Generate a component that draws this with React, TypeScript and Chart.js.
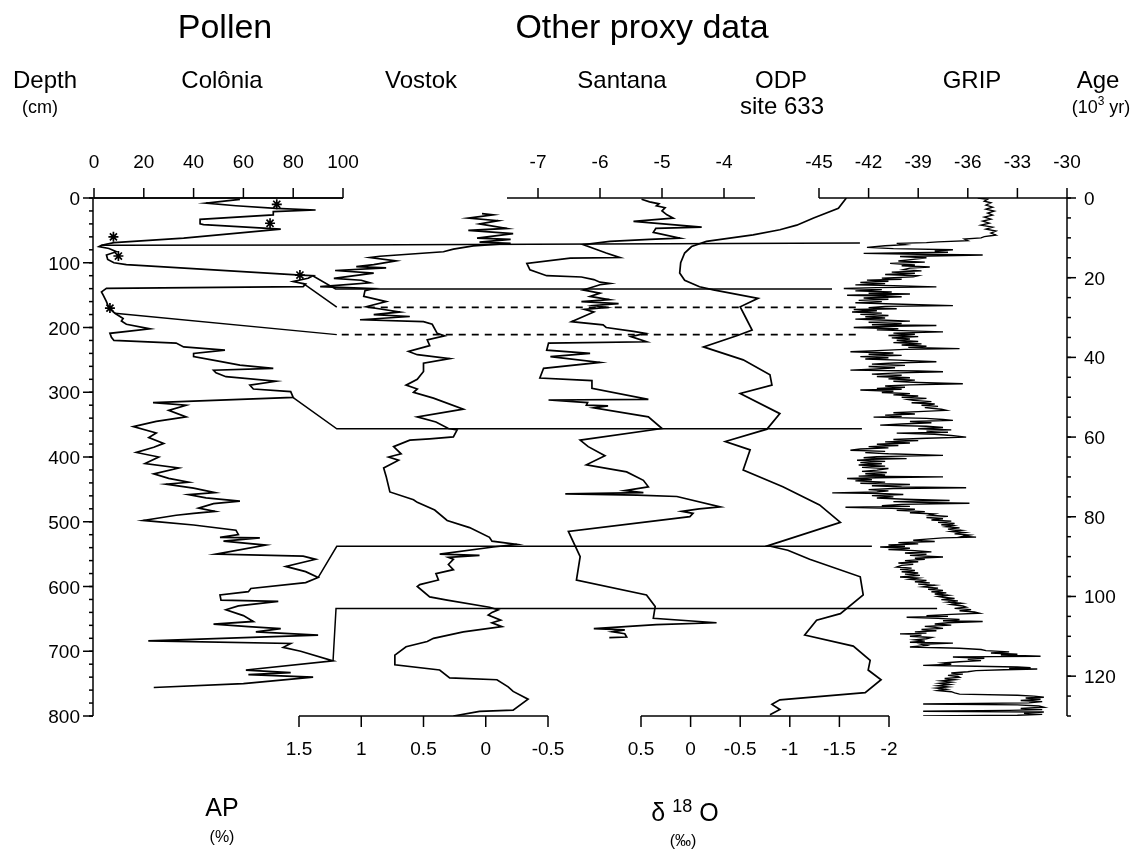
import React, { useEffect, useRef } from 'react';
import { Chart, registerables } from 'chart.js';

Chart.register(...registerables);

// ---------- tick values ----------
const depthTicks = [0, 100, 200, 300, 400, 500, 600, 700, 800];
const ageTicks = [0, 20, 40, 60, 80, 100, 120];
const coloniaTicks = [0, 20, 40, 60, 80, 100];
const santanaTicks = [-7, -6, -5, -4];
const gripTicks = [-45, -42, -39, -36, -33, -30];
const vostokTicks = [1.5, 1, 0.5, 0, -0.5];
const odpTicks = [0.5, 0, -0.5, -1, -1.5, -2];

// ---------- data ----------
// Colônia pollen: [depth cm, AP %]
const coloniaAP: [number, number][] = [
  [2, 58.6], [8, 45], [12, 57], [16, 73], [18.5, 89], [21, 72], [26, 72], [33, 42.6], [40, 42.6], [41, 44],
  [48, 75], [62, 36], [69, 8], [73, 3], [75, 2], [78, 6], [83, 9], [88, 5], [95, 5.5], [100, 8], [103, 13],
  [119, 83], [120, 88], [124, 86], [129, 80], [133, 85], [137, 84], [139.5, 5], [145, 3], [150, 3.7],
  [160, 5], [170, 6], [178, 8.4], [186, 11.7], [190, 11], [195, 13], [202, 22.5], [209, 6.4], [215, 7],
  [220, 8], [224, 33], [230, 36], [235, 52.6], [240, 40], [245, 40], [252, 50], [258, 58.6], [263, 72],
  [266, 48], [270, 49], [276, 53], [283, 73], [289, 62.6], [295, 64], [299, 79], [308, 80], [316, 23.7],
  [320, 37], [328, 30], [338, 37], [345, 25], [353, 15.8], [363, 25], [370, 22], [379, 28], [385, 24],
  [393, 17], [400, 26], [410, 20.5], [417, 34], [426, 24], [433, 30], [439, 38], [442, 29], [448, 40],
  [455, 48.6], [458, 38], [463, 45], [468, 58.6], [472, 48], [479, 42], [484, 48.6], [487, 40], [490, 33],
  [498, 19.8], [505, 40], [513, 57], [520, 58], [524, 50.6], [525, 66.6], [530, 52], [536, 69], [550, 49],
  [553, 84], [558, 89], [569, 77], [577, 85], [586, 90], [594, 85], [603, 63], [608, 62], [613, 50.6],
  [621, 51], [623, 74], [630, 58], [636, 53], [645, 60], [654, 64], [658, 48], [662, 62], [665, 75],
  [670, 65], [675, 90], [684, 21.8], [688, 79], [694, 76], [700, 83], [715, 96], [729, 61], [733, 79],
  [736, 62], [740, 88], [750, 60], [756, 24],
];

// starred samples on the Colônia curve: [depth, AP %]
const coloniaStars: [number, number][] = [
  [9.7, 73.4], [39, 70.7], [60, 7.8], [89.6, 9.8], [119, 82.7], [170, 6.4],
];

// Vostok δ18O: [depth-equivalent, ‰]
const vostokD18O: [number, number][] = [
  [24, 0.03], [26, -0.06], [31, 0.14], [35, -0.1], [40, 0.05], [47, -0.17], [50, 0.14], [55, -0.22],
  [62, 0.07], [64, -0.2], [68, 0.05], [70, -0.2], [74, 0.1], [79, 0.26], [83, 0.34], [90, 0.85], [92, 0.93],
  [97, 0.72], [103, 0.9], [106, 1.04], [108, 0.8], [112, 1.21], [116, 0.9], [124, 1.22], [127, 1.0],
  [131, 0.93], [137, 1.33], [140, 0.9], [143, 0.97], [152, 0.98], [160, 0.8], [168, 0.96], [176, 0.69],
  [180, 0.9], [183, 0.61], [188, 1.01], [191, 0.5], [195, 0.43], [209, 0.39], [213, 0.33], [219, 0.47],
  [228, 0.45], [237, 0.62], [242, 0.55], [248, 0.29], [255, 0.5], [268, 0.5], [280, 0.55], [289, 0.64],
  [295, 0.55], [300, 0.58], [309, 0.42], [326, 0.18], [338, 0.55], [346, 0.4], [356, 0.3], [358, 0.23],
  [369, 0.26], [372, 0.45], [374, 0.61], [384, 0.74], [395, 0.68], [400, 0.78], [405, 0.7], [417, 0.82],
  [430, 0.8], [454, 0.77], [466, 0.58], [470, 0.55], [482, 0.41], [498, 0.31], [509, 0.13], [524, -0.03],
  [530, -0.05], [535, -0.25], [539, -0.06], [550, 0.37], [552, 0.05], [555, 0.3], [558, 0.26], [566, 0.3],
  [574, 0.26], [580, 0.4], [590, 0.38], [597, 0.53], [600, 0.55], [616, 0.45], [621, 0.31], [632, -0.03],
  [636, -0.1], [640, -0.05], [644, -0.02], [652, -0.12], [656, -0.05], [662, -0.13], [670, 0.18],
  [680, 0.42], [685, 0.47], [693, 0.64], [706, 0.73], [721, 0.73], [729, 0.37], [741, 0.29], [744, -0.09],
  [755, -0.18], [762, -0.22], [774, -0.34], [791, -0.22], [793, 0.05], [800, 0.26],
];

// Santana δ18O: [depth-equivalent, ‰]
const santanaD18O: [number, number][] = [
  [2, -5.33], [6, -5.2], [9, -5.05], [12, -5.09], [15, -4.95], [20, -5.0], [26, -4.92], [31, -4.82],
  [36, -5.46], [45, -4.36], [47, -5.1], [53, -5.14], [62, -4.71], [64, -5.2], [67, -5.84], [72, -6.27],
  [78, -6.1], [85, -5.9], [92, -5.68], [93, -6.48], [101, -7.18], [111, -7.13], [120, -6.86], [122, -6.3],
  [126, -6.1], [130, -6.0], [132, -5.84], [134, -6.0], [142, -6.27], [147, -6.0], [152, -6.16],
  [157, -5.85], [160, -6.3], [163, -5.7], [166, -6.1], [169, -5.9], [172, -6.25], [176, -6.1],
  [191, -6.46], [196, -5.95], [200, -5.9], [206, -5.46], [209, -5.27], [214, -5.5], [222, -5.25],
  [224, -6.83], [235, -6.86], [240, -6.16], [245, -6.8], [254, -6.0], [263, -6.91], [278, -6.97],
  [282, -6.13], [294, -6.13], [311, -5.22], [312, -6.83], [316, -6.2], [320, -6.22], [321, -5.87],
  [324, -6.1], [338, -5.22], [356, -5.0], [374, -6.32], [384, -6.19], [398, -5.92], [412, -6.22],
  [423, -5.57], [436, -5.3], [446, -5.22], [452, -5.6], [455, -5.3], [457, -6.56], [459, -5.4],
  [461, -4.76], [477, -4.06], [480, -4.4], [484, -4.68], [487, -4.5], [492, -4.55], [515, -6.51],
  [554, -6.32], [590, -6.38], [613, -5.25], [631, -5.11], [649, -5.14], [656, -4.12], [659, -5.09],
  [665, -6.1], [667, -5.6], [670, -5.8], [673, -5.6], [678, -5.57], [679, -5.85],
];

// ODP site 633 δ18O: [depth-equivalent, ‰]
const odpD18O: [number, number][] = [
  [0, -1.57], [16, -1.49], [31, -1.24], [42, -1.07], [49, -0.9], [57, -0.63], [67, -0.16], [75, -0.01],
  [85, 0.06], [100, 0.1], [116, 0.11], [127, 0.06], [137, -0.09], [142, -0.23], [155, -0.68], [168, -0.5],
  [183, -0.55], [204, -0.62], [212, -0.48], [230, -0.13], [250, -0.53], [273, -0.8], [289, -0.82],
  [302, -0.5], [333, -0.9], [357, -0.77], [376, -0.35], [389, -0.6], [420, -0.53], [446, -0.93],
  [474, -1.3], [501, -1.51], [531, -0.9], [537, -0.78], [544, -0.98], [558, -1.2], [585, -1.71],
  [613, -1.74], [642, -1.51], [652, -1.27], [675, -1.15], [692, -1.64], [714, -1.81], [729, -1.79],
  [744, -1.92], [764, -1.76], [775, -0.9], [782, -0.82], [790, -0.9], [798, -0.8],
];

// GRIP δ18O: [age kyr, ‰]
const gripD18O: [number, number][] = [
  [0, -35.4], [0.3, -34.8], [0.8, -35.0], [1.2, -34.6], [1.8, -34.9], [2.3, -34.5], [2.8, -34.9], [3.3, -34.4],
  [3.8, -34.8], [4.3, -34.5], [4.8, -35.0], [5.3, -34.6], [5.8, -35.1], [6.3, -34.7], [6.8, -35.2],
  [7.3, -34.5], [7.8, -34.9], [8.3, -34.3], [8.8, -34.6], [9.3, -34.3], [9.7, -35.0],
  [10.0, -35.2], [10.3, -36.2], [10.7, -36.0], [11.0, -37.8], [11.2, -38.5], [11.4, -40.3], [11.7, -39.8],
  [12.0, -41.0], [12.4, -42.1], [12.7, -40.5], [13.0, -36.9], [13.3, -38.0], [13.6, -37.2], [13.9, -42.3],
  [14.1, -39.0], [14.3, -35.1], [14.5, -37.5], [14.7, -40.1], [15.0, -38.5],
  [15.4, -39.3], [15.8, -40.2], [16.1, -38.6], [16.4, -40.7], [16.8, -39.2], [17.0, -40.0], [17.3, -38.3],
  [17.6, -39.5], [18.0, -39.9], [18.3, -38.8], [18.6, -40.6], [18.9, -39.2], [19.2, -41.0], [19.5, -39.0],
  [19.8, -39.3], [20.1, -41.2], [20.4, -40.0], [20.6, -42.1],
  [20.9, -40.8], [21.2, -42.5], [21.5, -41.0], [21.8, -42.8], [22.0, -40.5], [22.3, -37.9], [22.5, -41.5],
  [22.7, -43.5], [23.0, -41.2], [23.3, -42.8], [23.6, -40.6], [23.9, -42.0], [24.1, -39.5], [24.4, -43.3],
  [24.6, -41.0], [24.8, -40.0], [25.1, -42.3], [25.4, -40.8], [25.7, -42.6], [26.0, -41.2], [26.3, -42.8],
  [26.6, -40.5], [27.0, -36.9], [27.2, -41.0], [27.5, -42.0], [27.8, -40.3], [28.0, -42.9], [28.3, -41.5],
  [28.6, -43.0], [28.9, -41.2], [29.2, -42.5], [29.5, -40.8], [29.8, -42.2], [30.1, -41.0], [30.4, -42.8],
  [30.6, -41.3],
  [30.9, -39.5], [31.2, -42.0], [31.5, -40.0], [31.8, -41.8], [32.0, -37.9], [32.2, -40.5], [32.5, -42.9],
  [32.8, -40.2], [33.1, -41.5], [33.4, -39.0], [33.6, -37.5], [33.9, -40.5], [34.2, -39.2], [34.5, -40.8],
  [34.8, -39.0], [35.1, -40.6], [35.4, -39.5], [35.7, -40.3], [36.0, -39.0], [36.3, -40.5], [36.6, -38.8],
  [36.9, -40.0], [37.2, -38.5], [37.5, -39.6], [37.8, -36.5], [38.0, -39.8], [38.3, -41.5], [38.6, -43.1],
  [38.9, -40.5], [39.2, -42.0], [39.5, -40.0], [39.8, -42.5],
  [40.1, -40.8], [40.4, -42.2], [40.7, -40.2], [41.1, -37.9], [41.4, -40.5], [41.7, -41.8], [42.0, -39.8],
  [42.3, -42.0], [42.6, -40.4], [42.9, -41.5], [43.2, -43.1], [43.4, -39.0], [43.6, -37.5], [43.9, -40.2],
  [44.2, -41.8], [44.5, -40.0], [44.8, -41.5], [45.1, -39.5], [45.4, -40.8], [45.7, -39.2], [46.0, -40.5],
  [46.3, -39.0], [46.6, -36.3], [46.9, -39.5], [47.2, -41.0], [47.5, -39.8], [47.8, -41.5], [48.0, -40.0],
  [48.2, -42.5], [48.5, -40.5], [48.8, -41.2], [49.1, -39.5], [49.4, -40.5], [49.7, -39.0], [50.0, -40.0],
  [50.3, -38.5], [50.6, -39.6], [50.8, -39.3], [51.1, -38.2], [51.4, -39.4], [51.7, -38.0], [52.0, -38.8],
  [52.3, -37.8], [52.6, -38.6], [53.0, -37.6], [53.3, -37.3], [53.6, -39.0], [53.9, -40.5], [54.2, -39.2],
  [54.5, -41.0], [54.8, -40.0], [55.0, -41.7], [55.3, -38.5], [55.6, -37.5], [55.8, -36.9], [56.1, -39.5],
  [56.4, -38.2], [56.7, -40.0], [57.0, -41.3], [57.3, -38.5], [57.6, -37.5], [57.9, -39.0], [58.2, -37.0],
  [58.5, -38.5], [58.8, -37.2], [59.0, -40.3], [59.3, -38.0], [59.6, -37.0], [60.0, -36.1],
  [60.3, -38.5], [60.6, -40.5], [60.9, -39.0], [61.2, -41.0], [61.5, -39.5], [61.8, -41.5], [62.1, -40.2],
  [62.4, -42.0], [62.7, -40.8], [63.0, -42.5], [63.3, -43.1], [63.6, -41.0], [63.9, -42.2], [64.2, -40.8],
  [64.6, -37.5], [64.9, -41.5], [65.2, -42.3], [65.4, -39.7], [65.6, -41.8], [65.8, -42.7], [66.1, -41.0],
  [66.4, -42.5], [66.7, -41.2], [67.0, -42.6], [67.3, -41.0], [67.6, -42.4], [67.9, -40.8], [68.3, -41.5],
  [68.6, -42.4], [68.9, -40.9], [69.2, -42.2], [69.5, -41.0], [69.8, -42.6], [70.0, -37.5], [70.2, -41.5],
  [70.4, -43.3], [70.7, -41.8], [71.0, -42.8], [71.3, -41.0], [71.6, -42.5], [71.9, -39.5], [72.2, -41.8],
  [72.5, -40.0], [72.7, -36.1], [72.9, -40.5], [73.2, -42.0], [73.5, -40.8], [73.8, -41.5], [74.0, -44.2],
  [74.2, -41.0], [74.4, -39.9], [74.7, -41.8],
  [75.0, -40.5], [75.3, -41.5], [75.6, -39.8], [75.9, -37.1], [76.2, -40.5], [76.4, -39.0], [76.6, -35.9],
  [76.9, -40.0], [77.2, -41.2], [77.4, -39.5], [77.6, -43.4], [77.9, -40.6], [78.1, -39.2], [78.4, -40.3],
  [78.7, -38.6], [79.0, -39.5], [79.3, -38.0], [79.6, -38.3], [79.9, -37.2], [80.2, -38.5], [80.5, -37.5],
  [80.8, -38.2], [81.1, -37.0], [81.4, -37.8], [81.7, -36.8], [82.0, -37.6], [82.2, -36.9], [82.5, -37.3],
  [82.8, -36.5], [83.1, -37.2], [83.4, -36.4], [83.7, -37.0], [84.0, -36.2], [84.3, -36.8], [84.6, -35.9],
  [84.9, -36.3], [85.1, -35.5], [85.3, -37.5], [85.6, -38.5], [85.9, -39.3], [86.2, -38.0], [86.5, -40.2],
  [86.8, -39.0], [87.1, -40.8], [87.4, -39.8], [87.6, -41.3],
  [87.9, -39.5], [88.2, -40.8], [88.5, -39.2], [88.8, -38.2], [89.1, -39.8], [89.4, -38.5], [89.7, -39.5],
  [90.1, -37.5], [90.4, -39.2], [90.7, -38.6], [91.0, -39.8], [91.3, -39.0], [91.6, -40.2], [91.9, -39.3],
  [92.2, -40.0], [92.6, -40.3], [92.9, -39.4], [93.2, -40.1], [93.5, -39.2], [93.8, -40.0], [94.1, -39.0],
  [94.4, -39.8], [94.7, -38.9], [95.1, -40.1], [95.4, -39.0], [95.7, -39.5], [96.0, -38.5], [96.3, -39.2],
  [96.6, -38.3], [96.9, -39.0], [97.2, -38.0], [97.6, -38.7], [97.9, -37.8], [98.2, -38.4], [98.5, -37.5],
  [98.8, -38.2], [99.1, -37.3], [99.4, -38.0], [99.7, -37.2], [100.0, -37.8], [100.2, -37.5],
  [100.5, -36.8], [100.8, -37.6], [101.1, -36.6], [101.4, -37.2], [101.7, -36.4], [102.0, -37.0],
  [102.4, -36.3], [102.7, -36.1], [103.0, -36.8], [103.3, -35.8], [103.6, -36.5], [103.9, -35.6],
  [104.2, -35.3], [104.5, -37.0], [104.8, -38.5], [105.0, -37.2], [105.2, -39.7], [105.5, -37.8],
  [105.8, -36.5], [106.1, -37.5], [106.3, -35.1], [106.6, -37.2], [106.9, -38.0], [107.2, -37.0],
  [107.5, -38.6], [107.7, -38.1], [108.0, -37.5], [108.3, -38.8], [108.6, -37.9], [108.9, -39.2],
  [109.2, -38.5], [109.4, -40.1], [109.7, -38.8], [110.0, -39.5], [110.3, -38.2], [110.6, -38.5],
  [110.9, -39.2], [111.2, -38.6], [111.5, -39.5], [111.7, -36.9], [112.0, -38.8], [112.3, -38.5],
  [112.7, -39.5],
  [113.0, -36.5], [113.3, -35.2], [113.6, -34.9], [113.9, -33.5], [114.2, -34.6], [114.5, -33.0],
  [114.7, -34.0], [115.0, -31.6], [115.1, -34.5], [115.2, -36.9], [115.5, -35.0], [115.8, -36.0],
  [116.1, -35.2], [116.4, -36.5], [116.7, -37.5], [117.0, -37.0], [117.3, -38.7], [117.5, -35.5],
  [117.7, -33.0], [117.9, -32.2], [118.0, -33.5], [118.2, -31.8], [118.4, -33.8], [118.6, -35.5],
  [118.9, -36.0], [119.2, -37.0], [119.5, -36.3], [119.8, -37.2], [120.1, -36.6], [120.3, -36.5],
  [120.6, -37.4], [120.9, -36.8], [121.2, -37.6], [121.5, -37.0], [121.8, -37.7], [122.1, -37.1],
  [122.4, -37.8], [122.7, -37.2], [123.0, -37.9], [123.3, -37.3], [123.6, -37.8], [123.9, -37.0],
  [124.2, -36.8], [124.5, -36.5],
  [124.8, -33.0], [125.0, -32.0], [125.3, -31.4], [125.5, -32.5], [125.8, -31.6], [126.1, -32.8],
  [126.4, -31.5], [126.7, -32.3], [127.0, -38.7], [127.2, -33.0], [127.5, -31.7], [127.8, -31.4],
  [128.1, -32.8], [128.4, -31.5], [128.6, -33.5], [128.8, -38.7], [129.0, -31.4], [129.3, -32.6],
  [129.6, -31.5], [129.8, -33.0], [130.0, -38.7],
];

// tie lines from the Colônia record to the proxies: [AP-scale position, depth]
const tieLinesSolid: [number, number][][] = [
  [[3, 73], [97.6, 72.5], [307.6, 69.5]],
  [[88, 120.5], [97, 140.5], [296.4, 140.5]],
  [[84, 132], [97.5, 168.5]],
  [[8.4, 178], [97.5, 211]],
  [[80, 308.4], [97.5, 356.5], [308.4, 356.5]],
  [[90, 586.4], [97.5, 538], [312.4, 538]],
  [[96, 715], [97.2, 634], [338.6, 634]],
];
const tieLinesDashed: [number, number][][] = [
  [[99.5, 169], [307, 169]],
  [[99.5, 211], [307, 211]],
];

// ---------- geometry (pixels) ----------
const W = 1144;
const H = 859;
const AREA = { left: 93, right: 1067, top: 198, bottom: 716 };
const CAL: Record<string, { v0: number; p0: number; v1: number; p1: number }> = {
  xCol: { v0: 0, p0: 94, v1: 100, p1: 343 },
  xVos: { v0: 1.5, p0: 299, v1: -0.5, p1: 548 },
  xSan: { v0: -7, p0: 538, v1: -4, p1: 724 },
  xOdp: { v0: 0.5, p0: 641, v1: -2, p1: 889 },
  xGrip: { v0: -45, p0: 819, v1: -30, p1: 1067 },
};

function xScale(id: string) {
  const c = CAL[id];
  const k = (c.v1 - c.v0) / (c.p1 - c.p0);
  const a = c.v0 + (AREA.left - c.p0) * k;
  const b = c.v0 + (AREA.right - c.p0) * k;
  return { type: 'linear', display: false, min: Math.min(a, b), max: Math.max(a, b), reverse: k < 0 };
}

const FONT = '"Liberation Sans", Arial, Helvetica, sans-serif';

const axesPlugin = {
  id: 'proxyAxes',
  afterDraw(chart: any) {
    const { ctx, scales, chartArea } = chart;
    const yD = scales.y;
    const yA = scales.yAge;
    const top = chartArea.top;
    const bottom = chartArea.bottom;
    const left = chartArea.left;
    const right = chartArea.right;
    ctx.save();
    ctx.strokeStyle = '#000';
    ctx.fillStyle = '#000';
    ctx.lineWidth = 1.5;
    ctx.lineCap = 'butt';
    const seg = (x1: number, y1: number, x2: number, y2: number) => {
      ctx.beginPath();
      ctx.moveTo(x1, y1);
      ctx.lineTo(x2, y2);
      ctx.stroke();
    };
    const text = (t: string, x: number, y: number, size: number, align: CanvasTextAlign = 'center') => {
      ctx.font = `${size}px ${FONT}`;
      ctx.textAlign = align;
      ctx.textBaseline = 'alphabetic';
      ctx.fillText(t, x, y);
    };

    // depth axis (left)
    seg(left, top, left, bottom);
    for (let d = 0; d <= 800; d += 20) {
      const py = yD.getPixelForValue(d);
      seg(left - 4, py, left, py);
    }
    depthTicks.forEach((d) => {
      const py = yD.getPixelForValue(d);
      seg(left - 10, py, left, py);
      text(String(d), left - 13, py + 7, 19, 'right');
    });

    // age axis (right)
    seg(right, top, right, bottom);
    for (let a = 0; a <= 130; a += 5) {
      const py = yA.getPixelForValue(a);
      seg(right, py, right + 4, py);
    }
    ageTicks.forEach((a) => {
      const py = yA.getPixelForValue(a);
      seg(right, py, right + 9, py);
      text(String(a), right + 17, py + 7, 19, 'left');
    });

    // top axes
    const topAxis = (id: string, ticks: number[], from: number, to: number) => {
      const s = scales[id];
      seg(s.getPixelForValue(from), top, s.getPixelForValue(to), top);
      ticks.forEach((v) => {
        const px = s.getPixelForValue(v);
        seg(px, top, px, top - 10);
        text(String(v), px, top - 30, 19);
      });
    };
    const xc = scales.xCol;
    seg(left, top, xc.getPixelForValue(100), top);
    topAxis('xCol', coloniaTicks, 0, 100);
    topAxis('xSan', santanaTicks, -7.5, -3.5);
    topAxis('xGrip', gripTicks, -45, -30);

    // bottom axes
    const bottomAxis = (id: string, ticks: number[], from: number, to: number) => {
      const s = scales[id];
      seg(s.getPixelForValue(from), bottom, s.getPixelForValue(to), bottom);
      ticks.forEach((v) => {
        const px = s.getPixelForValue(v);
        seg(px, bottom, px, bottom + 11);
        text(String(v), px, bottom + 39, 19);
      });
    };
    bottomAxis('xVos', vostokTicks, 1.5, -0.5);
    bottomAxis('xOdp', odpTicks, 0.5, -2);

    // headings
    text('Pollen', 225, 38, 34);
    text('Other proxy data', 642, 38, 34);
    text('Depth', 45, 88, 24);
    text('(cm)', 40, 113, 18);
    text('Colônia', 222, 88, 24);
    text('Vostok', 421, 88, 24);
    text('Santana', 622, 88, 24);
    text('ODP', 781, 88, 24);
    text('site 633', 782, 114, 24);
    text('GRIP', 972, 88, 24);
    text('Age', 1098, 88, 24);

    // (10^3 yr)
    const p1 = '(10';
    const p3 = ' yr)';
    ctx.font = `18px ${FONT}`;
    const w1 = ctx.measureText(p1).width;
    const w3 = ctx.measureText(p3).width;
    ctx.font = `12px ${FONT}`;
    const w2 = ctx.measureText('3').width;
    let sx = 1101 - (w1 + w2 + w3) / 2;
    text(p1, sx, 113, 18, 'left');
    sx += w1;
    text('3', sx, 105, 12, 'left');
    sx += w2;
    text(p3, sx, 113, 18, 'left');

    // bottom titles
    text('AP', 222, 816, 25);
    text('(%)', 222, 842, 16);
    ctx.font = `25px ${FONT}`;
    const wd = ctx.measureText('δ ').width;
    const wo = ctx.measureText(' O').width;
    ctx.font = `18px ${FONT}`;
    const w18 = ctx.measureText('18').width;
    let dx = 685 - (wd + w18 + wo) / 2;
    text('δ ', dx, 821, 25, 'left');
    dx += wd;
    text('18', dx, 812, 18, 'left');
    dx += w18;
    text(' O', dx, 821, 25, 'left');
    text('(‰)', 683, 846, 16);

    ctx.restore();
  },
};

function toXY(arr: [number, number][]) {
  return arr.map(([d, v]) => ({ x: v, y: d }));
}

export default function App() {
  const ref = useRef<HTMLCanvasElement | null>(null);

  useEffect(() => {
    if (!ref.current) return;
    const line = (data: any[], xAxisID: string, extra: any = {}) => ({
      data,
      xAxisID,
      yAxisID: 'y',
      borderColor: '#000',
      backgroundColor: '#000',
      borderWidth: 1.7,
      pointRadius: 0,
      fill: false,
      tension: 0,
      ...extra,
    });
    const datasets: any[] = [
      line(toXY(coloniaAP), 'xCol'),
      line(toXY(vostokD18O), 'xVos'),
      line(toXY(santanaD18O), 'xSan'),
      line(toXY(odpD18O), 'xOdp'),
      line(toXY(gripD18O), 'xGrip', { yAxisID: 'yAge', borderWidth: 1.4 }),
      ...tieLinesSolid.map((t) => line(toXY(t.map(([x, d]) => [d, x]) as [number, number][]), 'xCol', { borderWidth: 1.5 })),
      ...tieLinesDashed.map((t) =>
        line(toXY(t.map(([x, d]) => [d, x]) as [number, number][]), 'xCol', { borderWidth: 1.7, borderDash: [7, 6] })
      ),
      line(toXY(coloniaStars), 'xCol', {
        showLine: false,
        pointRadius: 5,
        pointStyle: 'star',
        pointBorderColor: '#000',
        pointBorderWidth: 1.7,
      }),
    ];

    const chart = new Chart(ref.current, {
      type: 'line',
      data: { datasets },
      options: {
        animation: false,
        responsive: false,
        maintainAspectRatio: false,
        devicePixelRatio: 1,
        layout: {
          padding: { left: AREA.left, right: W - AREA.right, top: AREA.top, bottom: H - AREA.bottom },
        },
        plugins: { legend: { display: false }, tooltip: { enabled: false }, title: { display: false } },
        scales: {
          xCol: xScale('xCol'),
          xVos: xScale('xVos'),
          xSan: xScale('xSan'),
          xOdp: xScale('xOdp'),
          xGrip: xScale('xGrip'),
          y: { type: 'linear', display: false, min: 0, max: 800, reverse: true },
          yAge: { type: 'linear', display: false, min: 0, max: 130, reverse: true },
        },
      } as any,
      plugins: [axesPlugin],
    });
    return () => chart.destroy();
  }, []);

  return (
    <div style={{ position: 'absolute', left: 0, top: 0, width: W, height: H, background: '#fff' }}>
      <canvas ref={ref} width={W} height={H} style={{ display: 'block', width: W, height: H }} />
    </div>
  );
}
